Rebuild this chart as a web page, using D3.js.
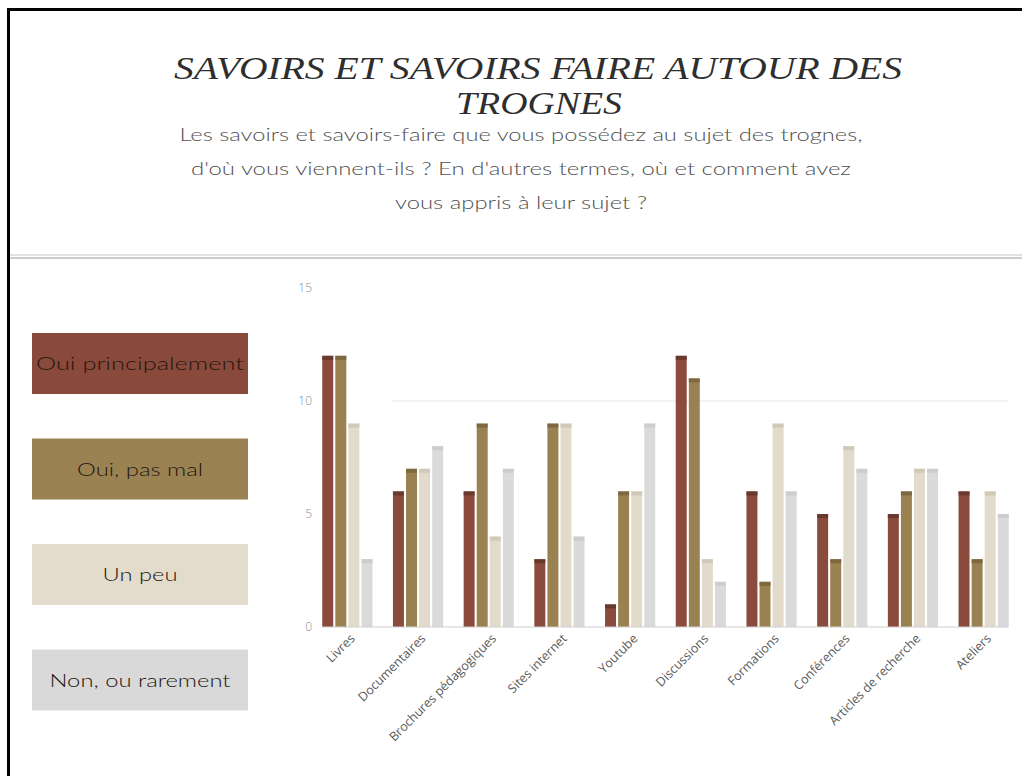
<!DOCTYPE html>
<html lang="fr">
<head>
<meta charset="utf-8">
<script src="https://cdn.jsdelivr.net/npm/d3@7"></script>
<style>
  html, body { margin: 0; padding: 0; background: #fff; }
  svg { display: block; }
</style>
</head>
<body>
<svg id="chart" width="1022" height="776"></svg>
<script>
// Sources of knowledge and the four answer levels
const categories = ["Livres", "Documentaires", "Brochures pédagogiques", "Sites internet", "Youtube",
  "Discussions", "Formations", "Conférences", "Articles de recherche", "Ateliers"];
const seriesNames = ["Oui principalement", "Oui, pas mal", "Un peu", "Non, ou rarement"];
const ouiPrincipalement = [12, 6, 6, 3, 1, 12, 6, 5, 5, 6];
const ouiPasMal        = [12, 7, 9, 9, 6, 11, 2, 3, 6, 3];
const unPeu            = [9, 7, 4, 9, 6, 3, 9, 8, 7, 6];
const nonRarement      = [3, 8, 7, 4, 9, 2, 6, 7, 7, 5];
const yTicks = [0, 5, 10, 15];

const titleLines = ["SAVOIRS ET SAVOIRS FAIRE AUTOUR DES", "TROGNES"];
const subtitleLines = [
  "Les savoirs et savoirs-faire que vous possédez au sujet des trognes,",
  "d'où vous viennent-ils ? En d'autres termes, où et comment avez",
  "vous appris à leur sujet ?"
];

const seriesValues = [ouiPrincipalement, ouiPasMal, unPeu, nonRarement];
const fills = ["#8b4b3c", "#9a8151", "#e2dbcb", "#dadada"];
const caps  = ["#5f3529", "#75613c", "#cdc4b1", "#c9c9c9"];
const legendFills = ["#8a4a3b", "#9b8252", "#e3dccd", "#d9d9d9"];
const legendWidths = [208, 126, 75, 181];

const svg = d3.select("#chart");

// Frame
svg.append("rect").attr("x", 7).attr("y", 8).attr("width", 1015).attr("height", 3).attr("fill", "#000");
svg.append("rect").attr("x", 7).attr("y", 8).attr("width", 3).attr("height", 768).attr("fill", "#000");

// Header
const title = svg.append("g").attr("font-family", "Liberation Serif, serif")
  .attr("font-style", "italic").attr("fill", "#2e2e2e").attr("font-size", 31);
title.append("text").attr("x", 538).attr("y", 79).attr("text-anchor", "middle")
  .attr("textLength", 728).attr("lengthAdjust", "spacingAndGlyphs").text(titleLines[0]);
title.append("text").attr("x", 539).attr("y", 114).attr("text-anchor", "middle")
  .attr("textLength", 166).attr("lengthAdjust", "spacingAndGlyphs").text(titleLines[1]);

const subLengths = [683, 660, 252];
svg.append("g").attr("font-family", "Lato, sans-serif").attr("font-size", 17).attr("font-weight", 300)
  .attr("fill", "#505050")
  .selectAll("text").data(subtitleLines).join("text")
  .attr("x", 521).attr("y", (d, i) => 141 + i * 34)
  .attr("text-anchor", "middle")
  .attr("textLength", (d, i) => subLengths[i]).attr("lengthAdjust", "spacingAndGlyphs")
  .text(d => d);

// Separator
svg.append("rect").attr("x", 10).attr("y", 254).attr("width", 1012).attr("height", 2).attr("fill", "#e2e2e2");
svg.append("rect").attr("x", 10).attr("y", 257).attr("width", 1012).attr("height", 2).attr("fill", "#cdcdcd");

// Legend
const legend = svg.append("g").selectAll("g").data(seriesNames).join("g")
  .attr("transform", (d, i) => `translate(32,${333 + i * 105.5})`);
legend.append("rect").attr("width", 216).attr("height", 61).attr("fill", (d, i) => legendFills[i]);
legend.append("text").attr("x", 108).attr("y", 37).attr("text-anchor", "middle")
  .attr("font-family", "Lato, sans-serif").attr("font-size", 18).attr("font-weight", 300)
  .attr("fill", "#24160f")
  .attr("textLength", (d, i) => legendWidths[i]).attr("lengthAdjust", "spacingAndGlyphs")
  .text(d => d);

// Scales
const y = d3.scaleLinear().domain([0, 15]).range([627, 288]);
const x0 = d3.scaleBand().domain(categories).range([312, 1019]).paddingInner(0.29).paddingOuter(0.145);
const x1 = d3.scaleBand().domain(d3.range(seriesNames.length)).range([0, x0.bandwidth()]).paddingInner(0.16);

// Grid line at 10
svg.append("line").attr("x1", 392).attr("x2", 1008).attr("y1", y(10)).attr("y2", y(10))
  .attr("stroke", "#e6e6e6").attr("stroke-width", 1);

// Y axis labels
const yAxis = svg.append("g").attr("transform", "translate(312,0)")
  .call(d3.axisLeft(y).tickValues(yTicks).tickSize(0).tickPadding(0));
yAxis.select(".domain").remove();
yAxis.selectAll("text").attr("font-family", "Open Sans, sans-serif").attr("font-size", 12)
  .attr("font-weight", 300).attr("fill", "#8a8a8a");

// Bars
const groups = svg.append("g").selectAll("g").data(categories).join("g")
  .attr("transform", d => `translate(${x0(d)},0)`);
groups.selectAll("g.bar").data((c, ci) => seriesValues.map((vals, si) => ({ si, v: vals[ci] })))
  .join("g").attr("class", "bar")
  .each(function (d) {
    const g = d3.select(this);
    g.append("rect").attr("x", x1(d.si)).attr("y", y(d.v)).attr("width", x1.bandwidth())
      .attr("height", y(0) - y(d.v)).attr("fill", fills[d.si]);
    g.append("rect").attr("x", x1(d.si)).attr("y", y(d.v)).attr("width", x1.bandwidth())
      .attr("height", Math.min(4, y(0) - y(d.v))).attr("fill", caps[d.si]).attr("opacity", 0.8);
  });

// X axis
const xAxis = svg.append("g").attr("transform", `translate(0,${y(0)})`)
  .call(d3.axisBottom(x0).tickSize(0).tickPadding(0));
xAxis.select(".domain").attr("d", `M${x0.range()[0] + 10},0H1008`).attr("stroke", "#cfcfcf");
xAxis.selectAll("text")
  .attr("font-family", "Open Sans, sans-serif").attr("font-size", 12.5)
  .attr("fill", "#5a5a5a").attr("text-anchor", "end")
  .attr("transform", "translate(2,6) rotate(-45)");
</script>
</body>
</html>
